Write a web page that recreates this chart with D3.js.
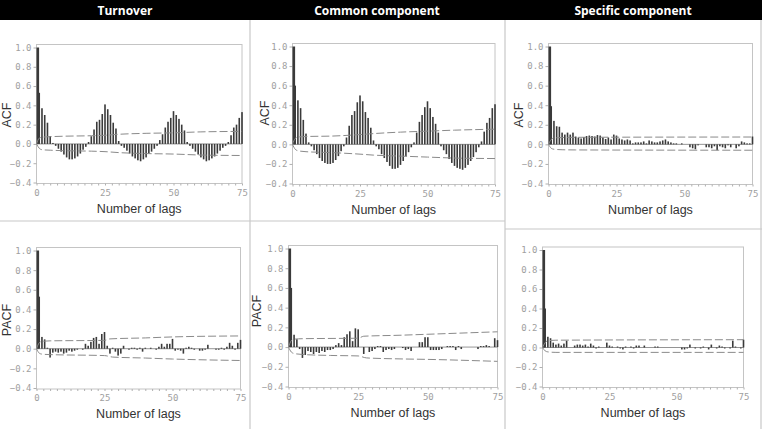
<!DOCTYPE html>
<html>
<head>
<meta charset="utf-8">
<title>ACF / PACF of turnover and its components</title>
<script src="https://d3js.org/d3.v7.min.js"></script>
<style>
  body { margin: 0; background: #fff; }
  svg { display: block; }
</style>
</head>
<body>
<script>

// column titles and tick labels
var columnTitles = ["Turnover", "Common component", "Specific component"];
var yTicks = [-0.4, -0.2, 0.0, 0.2, 0.4, 0.6, 0.8, 1.0];
var xTicks = [0, 25, 50, 75];

// autocorrelations, lags 0..75
var turnoverAcf = [1.00, 0.53, 0.37, 0.30, 0.22, 0.08, 0.01, -0.02, -0.05, -0.08,
  -0.11, -0.14, -0.16, -0.16, -0.15, -0.13, -0.10, -0.06, -0.03, 0.02,
  0.08, 0.15, 0.23, 0.25, 0.31, 0.41, 0.36, 0.30, 0.22, 0.16,
  0.03, -0.02, -0.04, -0.07, -0.10, -0.13, -0.15, -0.17, -0.18, -0.16,
  -0.14, -0.10, -0.08, -0.05, -0.02, 0.04, 0.10, 0.17, 0.23, 0.27,
  0.34, 0.30, 0.26, 0.20, 0.14, 0.02, -0.02, -0.05, -0.08, -0.11,
  -0.14, -0.16, -0.18, -0.17, -0.15, -0.13, -0.10, -0.07, -0.04, -0.02,
  0.02, 0.09, 0.17, 0.20, 0.27, 0.33];

var commonAcf = [1.00, 0.60, 0.45, 0.37, 0.25, 0.11, 0.02, -0.02, -0.06, -0.10,
  -0.14, -0.17, -0.19, -0.20, -0.20, -0.19, -0.16, -0.12, -0.07, -0.02,
  0.07, 0.19, 0.30, 0.34, 0.43, 0.50, 0.44, 0.33, 0.27, 0.17,
  0.04, -0.02, -0.05, -0.10, -0.14, -0.18, -0.22, -0.25, -0.25, -0.24,
  -0.21, -0.17, -0.12, -0.08, -0.03, 0.02, 0.12, 0.23, 0.30, 0.38,
  0.44, 0.37, 0.28, 0.21, 0.12, -0.02, -0.06, -0.10, -0.15, -0.19,
  -0.22, -0.24, -0.25, -0.26, -0.24, -0.21, -0.17, -0.13, -0.08, -0.03,
  0.03, 0.13, 0.22, 0.27, 0.37, 0.41];

var specificAcf = [1.00, 0.39, 0.24, 0.185, 0.18, 0.12, 0.10, 0.12, 0.10, 0.12,
  0.08, 0.07, 0.06, 0.075, 0.085, 0.09, 0.085, 0.08, 0.095, 0.09,
  0.07, 0.055, 0.07, 0.05, 0.10, 0.09, 0.06, 0.05, 0.04, 0.05,
  0.04, 0.01, 0.02, 0.02, 0.02, 0.03, 0.01, 0.04, 0.03, 0.02,
  0.02, 0.03, 0.04, 0.05, 0.03, 0.02, 0.01, 0.01, 0.00, 0.01,
  0.00, 0.00, -0.03, -0.04, -0.05, -0.01, 0.00, 0.00, -0.03, -0.03,
  -0.04, -0.02, -0.06, -0.02, -0.03, -0.04, -0.01, -0.03, 0.00, -0.04,
  -0.02, 0.03, 0.02, 0.01, 0.01, 0.08];

// partial autocorrelations, lags 0..75
var turnoverPacf = [1.00, 0.53, 0.12, 0.095, 0.01, -0.09, -0.04, -0.03, -0.04, -0.03,
  -0.05, -0.04, -0.02, -0.03, -0.02, -0.01, 0.00, -0.01, 0.05, 0.03,
  0.07, 0.11, 0.12, 0.05, 0.15, 0.17, 0.03, -0.05, 0.01, -0.03,
  -0.07, -0.05, 0.03, 0.00, -0.01, 0.01, 0.01, -0.01, 0.01, -0.03,
  0.01, 0.00, 0.01, 0.00, -0.01, 0.02, 0.05, 0.02, 0.05, 0.05,
  0.10, -0.02, -0.01, -0.02, -0.05, 0.01, 0.02, 0.01, -0.01, 0.00,
  -0.02, -0.02, -0.01, 0.04, 0.00, 0.00, -0.01, -0.01, 0.01, -0.01,
  0.02, 0.06, 0.03, -0.01, 0.06, 0.09];

var commonPacf = [1.00, 0.60, 0.125, 0.08, -0.02, -0.11, -0.08, -0.04, -0.05, -0.07,
  -0.05, -0.06, -0.04, -0.05, -0.03, -0.03, -0.02, 0.02, 0.04, 0.02,
  0.10, 0.13, 0.16, 0.06, 0.19, 0.18, 0.00, -0.07, 0.00, -0.05,
  -0.04, -0.02, 0.01, 0.01, -0.05, -0.03, -0.02, -0.03, -0.02, 0.00,
  0.00, -0.01, -0.03, -0.02, -0.04, 0.00, 0.00, 0.05, 0.05, 0.10,
  0.10, -0.03, -0.03, -0.03, -0.03, -0.02, 0.00, 0.01, 0.01, 0.01,
  -0.03, 0.01, -0.02, 0.00, 0.00, 0.00, 0.00, 0.00, -0.02, 0.01,
  0.01, 0.02, 0.01, 0.00, 0.09, 0.07];

var specificPacf = [1.00, 0.40, 0.11, 0.095, 0.05, 0.03, 0.04, 0.02, 0.04, 0.07,
  0.00, 0.00, 0.02, 0.03, 0.03, 0.02, 0.03, 0.01, 0.04, 0.02,
  -0.01, 0.01, 0.00, 0.00, 0.05, 0.02, 0.01, 0.00, 0.01, -0.01,
  -0.02, 0.01, 0.00, 0.01, -0.01, 0.02, 0.02, 0.00, 0.02, 0.00,
  0.00, 0.00, 0.01, 0.01, 0.00, 0.00, 0.00, 0.00, 0.00, 0.00,
  0.00, 0.00, -0.02, -0.02, -0.01, 0.03, 0.00, -0.01, 0.00, -0.01,
  0.01, 0.00, -0.02, 0.03, 0.00, -0.01, 0.02, 0.01, -0.01, 0.00,
  -0.01, 0.07, 0.01, 0.00, -0.01, 0.08];

// confidence bands, [lag, value]
var turnoverAcfUpper = [[0,0],[1,0.06],[2,0.07],[5,0.075],[10,0.08],[20,0.085],[25,0.09],[30,0.1],[40,0.11],[50,0.115],[60,0.125],[75,0.13]];
var turnoverAcfLower = [[0,0],[1,-0.045],[2,-0.06],[5,-0.065],[10,-0.07],[20,-0.075],[25,-0.08],[30,-0.09],[40,-0.1],[50,-0.105],[60,-0.115],[75,-0.12]];
var commonAcfUpper = [[0,0],[1,0.06],[2,0.075],[5,0.08],[15,0.085],[25,0.1],[30,0.11],[40,0.125],[50,0.135],[60,0.145],[75,0.155]];
var commonAcfLower = [[0,0],[1,-0.05],[2,-0.065],[5,-0.075],[15,-0.085],[25,-0.1],[30,-0.11],[40,-0.12],[50,-0.13],[60,-0.14],[75,-0.145]];
var specificAcfUpper = [[0,0],[1,0.05],[2,0.065],[5,0.07],[10,0.072],[75,0.075]];
var specificAcfLower = [[0,0],[1,-0.04],[2,-0.05],[5,-0.055],[10,-0.057],[75,-0.06]];
var turnoverPacfUpper = [[0,0],[1,0.06],[2,0.075],[5,0.08],[25,0.085],[27,0.1],[40,0.11],[50,0.12],[75,0.13]];
var turnoverPacfLower = [[0,0],[1,-0.045],[2,-0.055],[5,-0.06],[25,-0.07],[28,-0.085],[40,-0.095],[50,-0.105],[75,-0.12]];
var commonPacfUpper = [[0,0],[1,0.065],[2,0.08],[5,0.085],[25,0.09],[27,0.11],[40,0.12],[50,0.13],[75,0.155]];
var commonPacfLower = [[0,0],[1,-0.05],[2,-0.065],[5,-0.075],[15,-0.085],[25,-0.09],[28,-0.11],[40,-0.12],[50,-0.125],[75,-0.145]];
var specificPacfUpper = [[0,0],[1,0.05],[2,0.07],[5,0.075],[75,0.08]];
var specificPacfLower = [[0,0],[1,-0.035],[2,-0.045],[5,-0.05],[75,-0.05]];

// layout of the six plots (pixel boxes measured on the reference)
var panels = [
  { values: turnoverAcf,  upper: turnoverAcfUpper,  lower: turnoverAcfLower,  label: "ACF",  x: [36.5, 242],   y: [47.5, 182.5], lx: 7,   ly: 115 },
  { values: commonAcf,    upper: commonAcfUpper,    lower: commonAcfLower,    label: "ACF",  x: [292.5, 495],  y: [46.5, 183.5], lx: 265, ly: 113 },
  { values: specificAcf,  upper: specificAcfUpper,  lower: specificAcfLower,  label: "ACF",  x: [548.5, 752.5],y: [46.5, 183.5], lx: 519, ly: 115 },
  { values: turnoverPacf, upper: turnoverPacfUpper, lower: turnoverPacfLower, label: "PACF", x: [36.5, 240.5], y: [250.5, 388], lx: 7,   ly: 320 },
  { values: commonPacf,   upper: commonPacfUpper,   lower: commonPacfLower,   label: "PACF", x: [288.5, 497.5],y: [248.5, 386.5], lx: 257, ly: 311 },
  { values: specificPacf, upper: specificPacfUpper, lower: specificPacfLower, label: null,   x: [542.5, 743.5],y: [250, 386.5], lx: 0, ly: 0 }
];

var W = 762, H = 429;
var svg = d3.select("body").append("svg")
  .attr("width", W)
  .attr("height", H);

// header band
svg.append("rect").attr("x", 0).attr("y", 0).attr("width", W).attr("height", 20).attr("fill", "#000");
var colCenters = [125, 377, 633];
svg.selectAll("text.coltitle")
  .data(columnTitles)
  .enter().append("text")
  .attr("class", "coltitle")
  .attr("x", function (d, i) { return colCenters[i]; })
  .attr("y", 14.5)
  .attr("text-anchor", "middle")
  .attr("fill", "#fff")
  .style("font-family", "'Open Sans', sans-serif")
  .style("font-weight", "700")
  .style("font-size", "12px")
  .text(function (d) { return d; });

// cell borders
var grid = svg.append("g").attr("stroke", "#c8c8c8").attr("stroke-width", 1.2);
[250, 505, 761].forEach(function (x) {
  grid.append("line").attr("x1", x).attr("x2", x).attr("y1", 20).attr("y2", H);
});
grid.append("line").attr("x1", 0).attr("x2", 505).attr("y1", 221).attr("y2", 221);
grid.append("line").attr("x1", 505).attr("x2", W).attr("y1", 229).attr("y2", 229);

var tickFont = "'DejaVu Sans Mono', 'Liberation Mono', monospace";

panels.forEach(function (p) {
  var x = d3.scaleLinear().domain([0, 75]).range(p.x);
  var y = d3.scaleLinear().domain([1.0, -0.4]).range(p.y);
  var g = svg.append("g");

  var fTop = p.y[0] - 3, fBot = p.y[1] + 1;

  // frame
  g.append("rect")
    .attr("x", p.x[0]).attr("y", fTop)
    .attr("width", p.x[1] - p.x[0]).attr("height", fBot - fTop)
    .attr("fill", "none").attr("stroke", "#c4c4c4").attr("stroke-width", 1);

  // y axis
  var yAxis = d3.axisLeft(y).tickValues(yTicks).tickSize(3).tickPadding(2)
    .tickFormat(d3.format(".1f"));
  var ya = g.append("g").attr("transform", "translate(" + p.x[0] + ",0)").call(yAxis);
  ya.select(".domain").remove();
  ya.selectAll("line").attr("stroke", "#b0b0b0");
  ya.selectAll("text").attr("fill", "#a0a0a0").style("font-family", tickFont).style("font-size", "9px");

  // x axis with minor ticks
  var xMinor = d3.axisBottom(x).tickValues(d3.range(0, 75.1, 2.5)).tickSize(2).tickFormat("");
  var xm = g.append("g").attr("transform", "translate(0," + fBot + ")").call(xMinor);
  xm.select(".domain").remove();
  xm.selectAll("line").attr("stroke", "#b0b0b0");

  var xAxis = d3.axisBottom(x).tickValues(xTicks).tickSize(0).tickPadding(6).tickFormat(d3.format("d"));
  var xa = g.append("g").attr("transform", "translate(0," + fBot + ")").call(xAxis);
  xa.select(".domain").remove();
  xa.selectAll("text").attr("fill", "#a0a0a0").style("font-family", tickFont).style("font-size", "9px");

  // zero line
  g.append("line")
    .attr("x1", p.x[0]).attr("x2", p.x[1])
    .attr("y1", y(0)).attr("y2", y(0))
    .attr("stroke", "#666").attr("stroke-width", 0.7);

  // bars
  g.selectAll("rect.bar")
    .data(p.values)
    .enter().append("rect")
    .attr("class", "bar")
    .attr("x", function (d, i) { return x(i) - (i === 0 ? 0 : 0.8); })
    .attr("width", function (d, i) { return i === 0 ? 2.6 : 1.6; })
    .attr("y", function (d) { return Math.min(y(d), y(0)); })
    .attr("height", function (d) { return Math.abs(y(d) - y(0)); })
    .attr("fill", "#3a3a3a");

  // confidence bands
  var line = d3.line()
    .x(function (d) { return x(d[0]); })
    .y(function (d) { return y(d[1]); })
    .curve(d3.curveMonotoneX);
  [p.upper, p.lower].forEach(function (band) {
    g.append("path")
      .attr("d", line(band))
      .attr("fill", "none")
      .attr("stroke", "#8a8a8a")
      .attr("stroke-width", 1)
      .attr("stroke-dasharray", "8,3");
  });

  // axis titles
  g.append("text")
    .attr("x", (p.x[0] + p.x[1]) / 2)
    .attr("y", fBot + 29)
    .attr("text-anchor", "middle")
    .attr("fill", "#333")
    .style("font-family", "'Liberation Sans', Arial, sans-serif")
    .style("font-size", "12.5px")
    .text("Number of lags");

  if (p.label) {
    g.append("text")
      .attr("transform", "translate(" + (p.lx + 4) + "," + p.ly + ") rotate(-90)")
      .attr("text-anchor", "middle")
      .attr("fill", "#333")
      .style("font-family", "'Liberation Sans', Arial, sans-serif")
      .style("font-size", "12.5px")
      .text(p.label);
  }
});

</script>
</body>
</html>
